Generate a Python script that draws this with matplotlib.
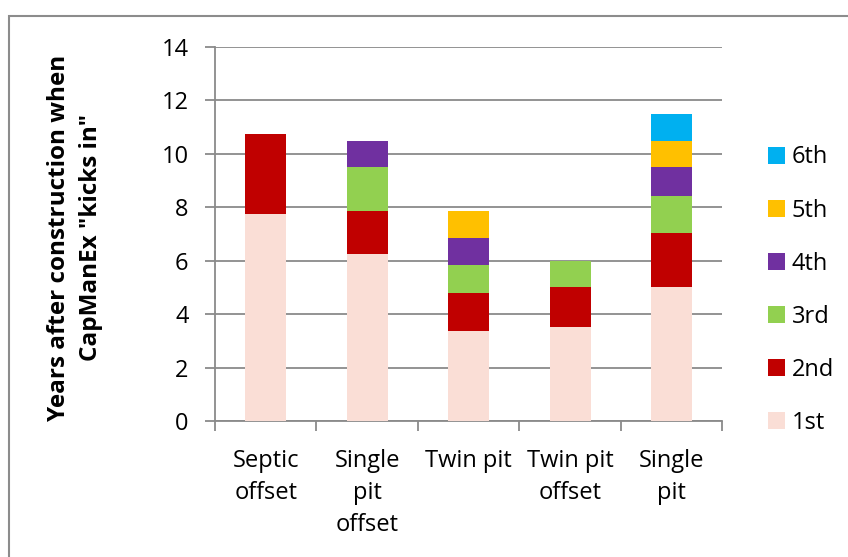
import numpy as np
import matplotlib.pyplot as plt
from matplotlib.patches import Rectangle

plt.rcParams['font.family'] = ['Open Sans', 'DejaVu Sans']

# categorias y valores (segmentos apilados)
categories = ['Septic\noffset', 'Single\npit\noffset', 'Twin pit', 'Twin pit\noffset', 'Single\npit']
series_names = ['1st', '2nd', '3rd', '4th', '5th', '6th']
first = [7.75, 6.25, 3.35, 3.5, 5.0]
second = [3.0, 1.6, 1.45, 1.5, 2.05]
third = [0, 1.65, 1.05, 1.0, 1.37]
fourth = [0, 1.0, 1.0, 0, 1.08]
fifth = [0, 0, 1.0, 0, 1.0]
sixth = [0, 0, 0, 0, 1.0]
colors = ['#FADED6', '#C00000', '#92D050', '#7030A0', '#FFC000', '#00B0F0']

series = [first, second, third, fourth, fifth, sixth]

fig = plt.figure(figsize=(8.48, 5.57), dpi=100)
ax = fig.add_axes([0.2535, 0.2442, 0.5985, 0.6714])

# borde del grafico
fig.patches.append(Rectangle((9 / 848, -0.1), 1.2, (557 - 16) / 557 + 0.1,
                             transform=fig.transFigure, fill=False,
                             edgecolor='#8c8c8c', linewidth=1.5, zorder=0))

x = np.arange(len(categories))
bottom = np.zeros(len(categories))
handles = []
for name, vals, c in zip(series_names, series, colors):
    vals = np.array(vals)
    b = ax.bar(x, vals, 0.4, bottom=bottom, color=c, label=name, zorder=3)
    handles.append(b)
    bottom += vals

ax.set_xlim(-0.5, 4.5)
ax.set_ylim(0, 14)
ax.set_yticks(np.arange(0, 15, 2))
ax.yaxis.grid(True, color='#8a8a8a', linewidth=1.3, zorder=0)
ax.set_axisbelow(True)

ax.set_xticks(x)
ax.set_xticklabels(categories, fontsize=17, linespacing=1.45)
ax.set_xticks(np.arange(-0.5, 5, 1), minor=True)
ax.tick_params(axis='x', which='major', length=0, pad=20)
ax.tick_params(axis='x', which='minor', length=7, color='#8a8a8a', width=1.3)
ax.tick_params(axis='y', length=7, color='#8a8a8a', width=1.3, labelsize=17, pad=12)

for s in ['top', 'right']:
    ax.spines[s].set_visible(False)
for s in ['left', 'bottom']:
    ax.spines[s].set_color('#8a8a8a')
    ax.spines[s].set_linewidth(1.3)

ax.set_ylabel('Years after construction when\nCapManEx "kicks in"', fontsize=17.5,
              fontweight='bold', linespacing=1.45)
ax.yaxis.set_label_coords(-0.22, 0.49)

leg = ax.legend(handles[::-1], series_names[::-1], loc='center left',
                bbox_to_anchor=(1.089, 0.35), frameon=False, fontsize=17,
                handlelength=0.72, handleheight=0.72, labelspacing=1.23,
                handletextpad=0.3, borderpad=0, borderaxespad=0)

plt.savefig('out.png', dpi=100)
